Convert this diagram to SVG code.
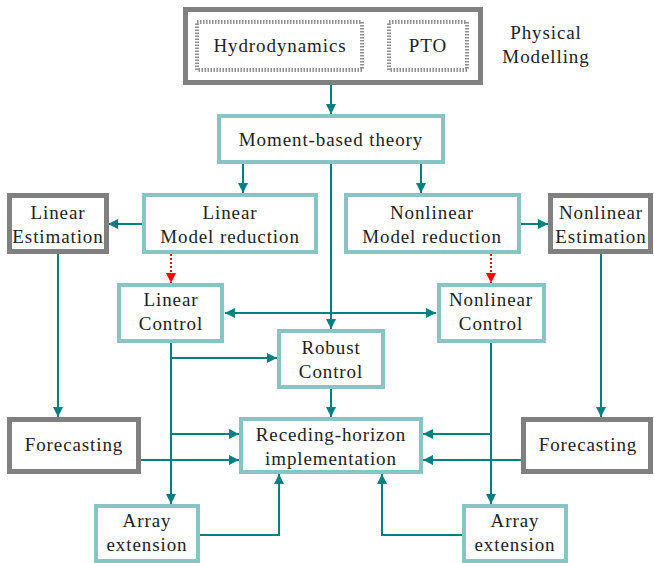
<svg xmlns="http://www.w3.org/2000/svg" width="654" height="563" viewBox="0 0 654 563">
<defs>
<marker id="ah" markerUnits="userSpaceOnUse" markerWidth="12" markerHeight="12" refX="10" refY="6" orient="auto">
<path d="M0,1 L10,6 L0,11 Z" fill="#008080"/>
</marker>
<marker id="ahs" markerUnits="userSpaceOnUse" markerWidth="12" markerHeight="12" refX="0" refY="6" orient="auto">
<path d="M10,1 L0,6 L10,11 Z" fill="#008080"/>
</marker>
<marker id="ahr" markerUnits="userSpaceOnUse" markerWidth="12" markerHeight="12" refX="10" refY="6" orient="auto">
<path d="M0,1 L10,6 L0,11 Z" fill="#ff0000"/>
</marker>
</defs>
<style>
text{font-family:"Liberation Serif","DejaVu Serif",serif;font-size:19px;letter-spacing:0.9px;fill:#222;text-anchor:middle}
.lt{fill:#fff;stroke:#88c4c4;stroke-width:4}
.gr{fill:#fff;stroke:#808080;stroke-width:5}
.dt{fill:none;stroke:#909090;stroke-width:4;stroke-dasharray:1.5 1.5}
.c{fill:none;stroke:#008080;stroke-width:2}
.r{fill:none;stroke:#ff0000;stroke-width:2;stroke-dasharray:2 2}
</style>
<rect width="654" height="563" fill="#fff"/>
<g id="connectors">
<path class="c" d="M331,84 V114" marker-end="url(#ah)"/>
<path class="c" d="M243,163 V193" marker-end="url(#ah)"/>
<path class="c" d="M421,163 V193" marker-end="url(#ah)"/>
<path class="c" d="M331,163 V329" marker-end="url(#ah)"/>
<path class="c" d="M143,224 H108" marker-end="url(#ah)"/>
<path class="c" d="M520,224 H548" marker-end="url(#ah)"/>
<path class="r" d="M171,254 V283" marker-end="url(#ahr)"/>
<path class="r" d="M491,254 V283" marker-end="url(#ahr)"/>
<path class="c" d="M225,313 H436" marker-start="url(#ahs)" marker-end="url(#ah)"/>
<path class="c" d="M58,253 V417" marker-end="url(#ah)"/>
<path class="c" d="M601,253 V417" marker-end="url(#ah)"/>
<path class="c" d="M171,342 V504" marker-end="url(#ah)"/>
<path class="c" d="M171,358 H277" marker-end="url(#ah)"/>
<path class="c" d="M171,434 H239" marker-end="url(#ah)"/>
<path class="c" d="M139,460 H239" marker-end="url(#ah)"/>
<path class="c" d="M199,535 H279 V474" marker-end="url(#ah)"/>
<path class="c" d="M491,342 V504" marker-end="url(#ah)"/>
<path class="c" d="M491,434 H423" marker-end="url(#ah)"/>
<path class="c" d="M522,460 H423" marker-end="url(#ah)"/>
<path class="c" d="M463,535 H382 V474" marker-end="url(#ah)"/>
<path class="c" d="M331,388 V417" marker-end="url(#ah)"/>
</g>
<g id="physical">
<rect class="gr" x="185.5" y="9.5" width="295" height="73"/>
<rect class="dt" x="197" y="22" width="165" height="48"/>
<rect class="dt" x="389" y="22" width="78" height="48"/>
<text x="280" y="52">Hydrodynamics</text>
<text x="428" y="52">PTO</text>
<text x="546" y="39">Physical</text>
<text x="546" y="63">Modelling</text>
</g>
<g id="moment"><rect class="lt" x="219" y="116" width="224" height="46"/><text x="331" y="146">Moment-based theory</text></g>
<g id="lin-mr"><rect class="lt" x="144" y="195" width="172" height="57"/><text x="230" y="219">Linear</text><text x="230" y="243">Model reduction</text></g>
<g id="nl-mr"><rect class="lt" x="346" y="195" width="173" height="57"/><text x="432" y="219">Nonlinear</text><text x="432" y="243">Model reduction</text></g>
<g id="lin-est"><rect class="gr" x="9.5" y="195.5" width="97" height="56"/><text x="58" y="219">Linear</text><text x="58" y="243">Estimation</text></g>
<g id="nl-est"><rect class="gr" x="550.5" y="195.5" width="100" height="56"/><text x="601" y="219">Nonlinear</text><text x="601" y="243">Estimation</text></g>
<g id="lin-ctrl"><rect class="lt" x="119" y="285" width="103" height="56"/><text x="171" y="306">Linear</text><text x="171" y="330">Control</text></g>
<g id="nl-ctrl"><rect class="lt" x="439" y="285" width="105" height="56"/><text x="491" y="306">Nonlinear</text><text x="491" y="330">Control</text></g>
<g id="robust"><rect class="lt" x="279" y="331" width="104" height="56"/><text x="331" y="354">Robust</text><text x="331" y="378">Control</text></g>
<g id="receding"><rect class="lt" x="241" y="419" width="180" height="53"/><text x="331" y="441">Receding-horizon</text><text x="331" y="465">implementation</text></g>
<g id="fc-left"><rect class="gr" x="9.5" y="419.5" width="129" height="52"/><text x="74" y="451">Forecasting</text></g>
<g id="fc-right"><rect class="gr" x="523.5" y="419.5" width="127" height="52"/><text x="588" y="451">Forecasting</text></g>
<g id="arr-left"><rect class="lt" x="96" y="506" width="102" height="55"/><text x="147" y="527">Array</text><text x="147" y="551">extension</text></g>
<g id="arr-right"><rect class="lt" x="464" y="506" width="102" height="55"/><text x="515" y="527">Array</text><text x="515" y="551">extension</text></g>
</svg>
